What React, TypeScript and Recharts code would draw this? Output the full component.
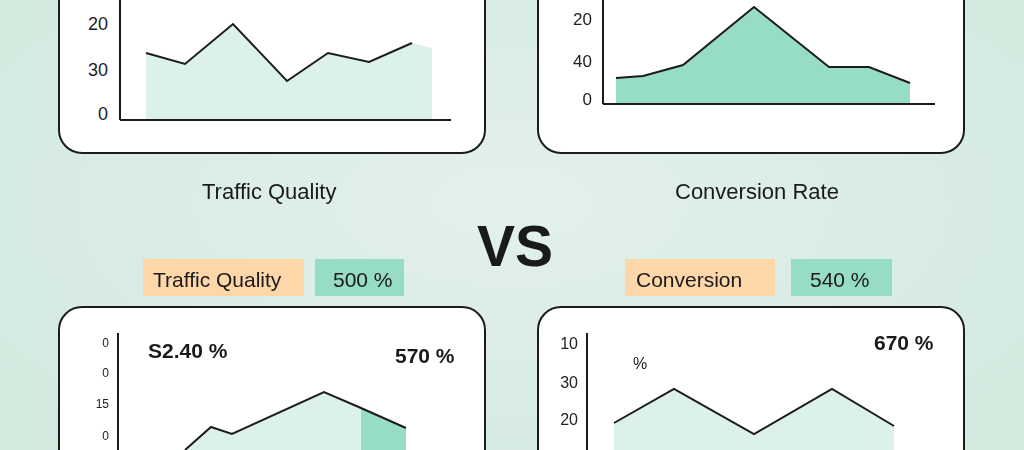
import React from "react";
import { ComposedChart, Area, Line, XAxis, YAxis } from "recharts";

// top-left: traffic quality trend
const tlX = [26, 65, 113, 167, 208, 249, 292, 312];
const tlFill = [67, 56, 96, 39, 67, 58, 77, 72];
const tlLine = [67, 56, 96, 39, 67, 58, 77, null];
const tlTickVals = [96, 50, 6];
const tlTickLabels = ["20", "30", "0"];

// top-right: conversion rate trend
const trX = [13, 40, 80, 151, 226, 266, 307];
const trVals = [26, 28, 39, 97, 37, 37, 21];
const trTickVals = [85, 43, 5];
const trTickLabels = ["20", "40", "0"];

// bottom-left
const blX = [67, 93, 114, 206, 243, 288];
const blLine = [20, 43, 36, 78, 62, 42];
const blDark = [null, null, null, null, 62, 42];
const blTickVals = [127, 97, 66, 34];
const blTickLabels = ["0", "0", "15", "0"];

// bottom-right
const brX = [27, 87, 167, 245, 307];
const brLine = [47, 81, 36, 81, 44];
const brTickVals = [127, 88, 51];
const brTickLabels = ["10", "30", "20"];

const FONT = "'Liberation Sans', Arial, Helvetica, sans-serif";
const INK = "#1c1c1c";
const LIGHT = "#dcf2e8";
const MINT = "#97dcc6";
const ORANGE = "#fdd6a9";

const tlData = tlX.map((x, i) => ({ x, fill: tlFill[i], line: tlLine[i] }));
const trData = trX.map((x, i) => ({ x, v: trVals[i] }));
const blData = blX.map((x, i) => ({ x, line: blLine[i], dark: blDark[i] }));
const brData = brX.map((x, i) => ({ x, line: brLine[i] }));

const fmt = (vals: number[], labels: string[]) => (v: number) => {
  const i = vals.indexOf(v);
  return i >= 0 ? labels[i] : "";
};

const Panel = ({ left, top, height }: { left: number; top: number; height: number }) => (
  <div
    style={{
      position: "absolute",
      left,
      top,
      width: 428,
      height,
      boxSizing: "border-box",
      background: "#fff",
      border: `2px solid ${INK}`,
      borderRadius: 24,
    }}
  />
);

const Label = ({ x, y, size, bold, text }: { x: number; y: number; size: number; bold?: boolean; text: string }) => (
  <div
    style={{
      position: "absolute",
      left: x,
      top: y,
      fontFamily: FONT,
      fontSize: size,
      fontWeight: bold ? 700 : 400,
      color: "#1a1a1a",
      whiteSpace: "nowrap",
      lineHeight: 1,
    }}
  >
    {text}
  </div>
);

const Chip = ({ x, w, tx, bg, text }: { x: number; w: number; tx: number; bg: string; text: string }) => (
  <div style={{ position: "absolute", left: x, top: 259, width: w, height: 37, background: bg }}>
    <div
      style={{
        position: "absolute",
        left: tx,
        top: 10,
        fontFamily: FONT,
        fontSize: 21,
        lineHeight: 1,
        color: "#1a1a1a",
        whiteSpace: "nowrap",
      }}
    >
      {text}
    </div>
  </div>
);

const axisLine = { stroke: INK, strokeWidth: 2 };

export default function App() {
  return (
    <div
      style={{
        position: "fixed",
        left: 0,
        top: 0,
        width: 1024,
        height: 450,
        overflow: "hidden",
        background: "radial-gradient(ellipse at 50% 45%, #e3f1ea 0%, #d8ece3 60%, #d2e9de 100%)",
      }}
    >
      <Panel left={58} top={-40} height={194} />
      <Panel left={537} top={-40} height={194} />
      <Panel left={58} top={306} height={200} />
      <Panel left={537} top={306} height={200} />

      {/* top-left chart */}
      <div style={{ position: "absolute", left: 60, top: -20 }}>
        <ComposedChart width={420} height={150} data={tlData} margin={{ top: 10, right: 29, bottom: 0, left: 0 }}>
          <XAxis dataKey="x" type="number" domain={[0, 331]} tick={false} tickLine={false} height={10} axisLine={axisLine} />
          <YAxis
            type="number"
            domain={[0, 130]}
            ticks={tlTickVals}
            tickFormatter={fmt(tlTickVals, tlTickLabels)}
            width={60}
            tickSize={0}
            tickMargin={12}
            tickLine={false}
            axisLine={axisLine}
            tick={{ fill: "#222", fontSize: 18, fontFamily: FONT }}
            interval={0}
          />
          <Area dataKey="fill" type="linear" stroke="none" fill={LIGHT} fillOpacity={1} isAnimationActive={false} />
          <Line dataKey="line" type="linear" stroke={INK} strokeWidth={2} dot={false} isAnimationActive={false} />
        </ComposedChart>
      </div>

      {/* top-right chart */}
      <div style={{ position: "absolute", left: 543, top: -20 }}>
        <ComposedChart width={412} height={134} data={trData} margin={{ top: 10, right: 20, bottom: 0, left: 0 }}>
          <XAxis dataKey="x" type="number" domain={[0, 332]} tick={false} tickLine={false} height={10} axisLine={axisLine} />
          <YAxis
            type="number"
            domain={[0, 114]}
            ticks={trTickVals}
            tickFormatter={fmt(trTickVals, trTickLabels)}
            width={60}
            tickSize={0}
            tickMargin={11}
            tickLine={false}
            axisLine={axisLine}
            tick={{ fill: "#222", fontSize: 17, fontFamily: FONT }}
            interval={0}
          />
          <Area dataKey="v" type="linear" stroke={INK} strokeWidth={2} fill={MINT} fillOpacity={1} isAnimationActive={false} />
        </ComposedChart>
      </div>

      {/* bottom-left chart */}
      <div style={{ position: "absolute", left: 68, top: 323 }}>
        <ComposedChart width={400} height={147} data={blData} margin={{ top: 10, right: 10, bottom: 0, left: 0 }}>
          <XAxis dataKey="x" type="number" domain={[0, 340]} hide />
          <YAxis
            type="number"
            domain={[0, 137]}
            ticks={blTickVals}
            tickFormatter={fmt(blTickVals, blTickLabels)}
            width={50}
            tickSize={0}
            tickMargin={9}
            tickLine={false}
            axisLine={axisLine}
            tick={{ fill: "#222", fontSize: 12, fontFamily: FONT }}
            interval={0}
          />
          <Area dataKey="line" type="linear" stroke="none" fill={LIGHT} fillOpacity={1} isAnimationActive={false} />
          <Area dataKey="dark" type="linear" stroke="none" fill={MINT} fillOpacity={1} isAnimationActive={false} />
          <Line dataKey="line" type="linear" stroke={INK} strokeWidth={2} dot={false} isAnimationActive={false} />
        </ComposedChart>
      </div>

      {/* bottom-right chart */}
      <div style={{ position: "absolute", left: 537, top: 323 }}>
        <ComposedChart width={400} height={147} data={brData} margin={{ top: 10, right: 10, bottom: 0, left: 0 }}>
          <XAxis dataKey="x" type="number" domain={[0, 340]} hide />
          <YAxis
            type="number"
            domain={[0, 137]}
            ticks={brTickVals}
            tickFormatter={fmt(brTickVals, brTickLabels)}
            width={50}
            tickSize={0}
            tickMargin={9}
            tickLine={false}
            axisLine={axisLine}
            tick={{ fill: "#222", fontSize: 16, fontFamily: FONT }}
            interval={0}
          />
          <Area dataKey="line" type="linear" stroke="none" fill={LIGHT} fillOpacity={1} isAnimationActive={false} />
          <Line dataKey="line" type="linear" stroke={INK} strokeWidth={2} dot={false} isAnimationActive={false} />
        </ComposedChart>
      </div>

      {/* headings */}
      <Label x={202} y={181} size={22} text="Traffic Quality" />
      <Label x={675} y={181} size={22} text="Conversion Rate" />
      <Label x={477} y={218} size={57} bold text="VS" />

      <Chip x={143} w={161} tx={10} bg={ORANGE} text="Traffic Quality" />
      <Chip x={315} w={89} tx={18} bg={MINT} text="500 %" />
      <Chip x={625} w={150} tx={11} bg={ORANGE} text="Conversion" />
      <Chip x={791} w={101} tx={19} bg={MINT} text="540 %" />

      {/* values inside bottom panels */}
      <Label x={148} y={340} size={21} bold text="S2.40 %" />
      <Label x={395} y={345} size={21} bold text="570 %" />
      <Label x={874} y={332} size={21} bold text="670 %" />
      <Label x={633} y={356} size={16} text="%" />
    </div>
  );
}
